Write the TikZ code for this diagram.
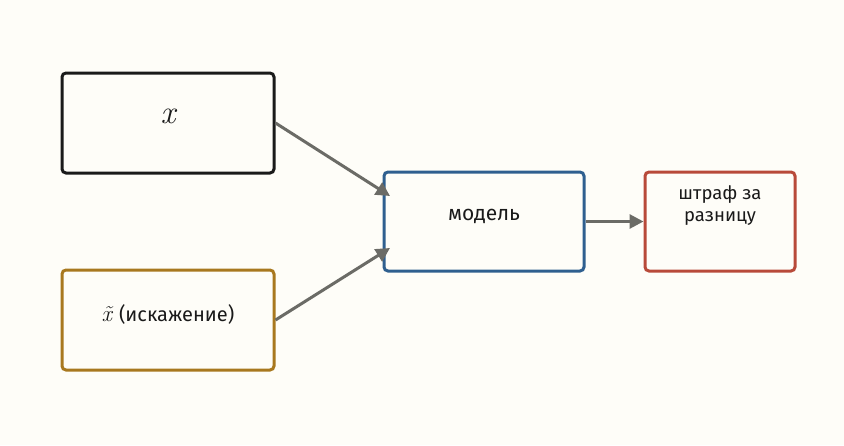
\documentclass[tikz,border=0pt]{standalone}
\usepackage{fontspec}
\setmainfont{Fira Sans}
\newfontfamily\lmr{Latin Modern Roman}
\usetikzlibrary{arrows.meta}
\definecolor{bg}{HTML}{FEFDF8}
\definecolor{cblack}{HTML}{1A1A1A}
\definecolor{cgold}{HTML}{A8781F}
\definecolor{cblue}{HTML}{2F5F8F}
\definecolor{cred}{HTML}{B84A3A}
\definecolor{carrow}{HTML}{6B6B66}
\begin{document}
\begin{tikzpicture}[x=1pt,y=-1pt,
  box/.style={draw, line width=3pt, rounded corners=4pt, fill=bg, inner sep=0pt},
  conn/.style={draw=carrow, line width=3pt, -{Triangle[length=14pt,width=14pt]}},
  lbl/.style={text=cblack, font=\fontsize{20.5}{24}\selectfont}]
\fill[bg] (0,0) rectangle (844,445);
\useasboundingbox (0,0) rectangle (844,445);
\node[box, draw=cblack, minimum width=212pt, minimum height=100pt] (X) at (168,123) {};
\node[box, draw=cgold, minimum width=212pt, minimum height=100pt] (XT) at (168,320) {};
\node[box, draw=cblue, minimum width=200pt, minimum height=99pt] (M) at (484,221.5) {};
\node[box, draw=cred, minimum width=150pt, minimum height=99pt] (P) at (720,221.5) {};
\node[lbl, font=\fontsize{33}{34}\selectfont\lmr\itshape] (Xl) at (168,116) {x};
\node[lbl, font=\fontsize{20}{24}\selectfont] (XTl) at (168,314) {{\fontsize{23}{24}\selectfont\lmr\itshape\~x}\hspace{7pt}(искажение)};
\node[lbl, font=\fontsize{21}{24}\selectfont] (Ml) at (484,216) {модель};
\node[lbl, font=\fontsize{18.5}{22}\selectfont, align=center] (Pl) at (720,206) {штраф за\\разницу};
\coordinate (m1) at (390,196);
\coordinate (m2) at (390,248);
\draw[conn] (X.east) -- (m1);
\draw[conn] (XT.east) -- (m2);
\draw[conn] (M.east) -- (P.west);
\end{tikzpicture}
\end{document}
